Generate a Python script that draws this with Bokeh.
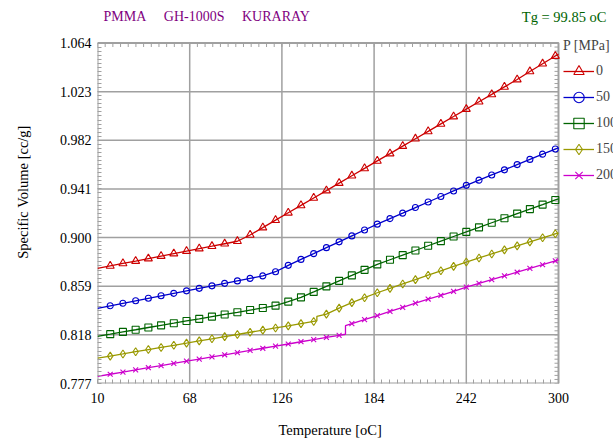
import math
from bokeh.plotting import figure
from bokeh.models import (Label, Legend, LegendItem, FixedTicker, Range1d,
                          PrintfTickFormatter)
from bokeh.embed import file_html
from bokeh.resources import INLINE

# ---------------- data ----------------
NB = "\u00a0"
title_text = "PMMA" + NB * 5 + "GH-1000S" + NB * 5 + "KURARAY"
tg_text = "Tg = 99.85 oC"
x_label = "Temperature [oC]"
y_label = "Specific Volume [cc/g]"
legend_title = "P [MPa]"
pressures = ["0", "50", "100", "150", "200"]

x_ticks = [10, 68, 126, 184, 242, 300]
y_ticks = [0.777, 0.818, 0.859, 0.900, 0.941, 0.982, 1.023, 1.064]

temps = [10, 18, 26, 34, 42, 50, 58, 66, 74, 82, 90, 98, 106, 114, 122, 130,
         138, 146, 154, 162, 170, 178, 186, 194, 202, 210, 218, 226, 234, 242,
         250, 258, 266, 274, 282, 290, 298, 300]

v_p0 = [0.8740, 0.8761, 0.8782, 0.8802, 0.8823, 0.8844, 0.8865, 0.8886, 0.8907,
        0.8927, 0.8948, 0.8969, 0.9022, 0.9084, 0.9147, 0.9209, 0.9271, 0.9334,
        0.9396, 0.9459, 0.9521, 0.9583, 0.9646, 0.9708, 0.9771, 0.9833, 0.9895,
        0.9958, 1.0020, 1.0083, 1.0145, 1.0207, 1.0270, 1.0332, 1.0400, 1.0465,
        1.0530, 1.0546]
v_p50 = [0.8404, 0.8425, 0.8446, 0.8467, 0.8488, 0.8509, 0.8530, 0.8551, 0.8572,
         0.8593, 0.8614, 0.8635, 0.8656, 0.8677, 0.8712, 0.8766, 0.8816, 0.8865,
         0.8915, 0.8964, 0.9014, 0.9064, 0.9113, 0.9160, 0.9206, 0.9253, 0.9300,
         0.9346, 0.9393, 0.9440, 0.9484, 0.9528, 0.9571, 0.9615, 0.9659, 0.9703,
         0.9746, 0.9757]
v_p100 = [0.8168, 0.8186, 0.8205, 0.8223, 0.8242, 0.8260, 0.8278, 0.8297, 0.8315,
          0.8334, 0.8352, 0.8370, 0.8389, 0.8407, 0.8426, 0.8460, 0.8496, 0.8542,
          0.8589, 0.8635, 0.8681, 0.8728, 0.8774, 0.8813, 0.8852, 0.8891, 0.8931,
          0.8970, 0.9009, 0.9048, 0.9086, 0.9125, 0.9163, 0.9202, 0.9240, 0.9278,
          0.9317, 0.9326]
v_p150 = [0.7983, 0.8001, 0.8019, 0.8038, 0.8056, 0.8074, 0.8092, 0.8110, 0.8129,
          0.8147, 0.8165, 0.8183, 0.8202, 0.8220, 0.8238, 0.8256, 0.8275, 0.8293,
          0.8355, 0.8405, 0.8452, 0.8493, 0.8535, 0.8572, 0.8609, 0.8646, 0.8683,
          0.8720, 0.8757, 0.8794, 0.8828, 0.8862, 0.8896, 0.8930, 0.8964, 0.8998,
          0.9032, 0.9040]
v_p200 = [0.7830, 0.7848, 0.7866, 0.7885, 0.7903, 0.7921, 0.7939, 0.7958, 0.7976,
          0.7994, 0.8012, 0.8030, 0.8049, 0.8067, 0.8085, 0.8103, 0.8122, 0.8140,
          0.8158, 0.8176, 0.8274, 0.8308, 0.8342, 0.8377, 0.8412, 0.8447, 0.8482,
          0.8512, 0.8547, 0.8582, 0.8614, 0.8645, 0.8677, 0.8708, 0.8740, 0.8771,
          0.8803, 0.8811]

# vertical steps in the traces: (temperature, value before, value after)
step_p150 = (148, 0.8297, 0.8336)
step_p200 = (166, 0.8185, 0.8257)

series = [v_p0, v_p50, v_p100, v_p150, v_p200]
steps = [None, None, None, step_p150, step_p200]
colors = ["#cc0000", "#0000cc", "#006400", "#999900", "#cc00cc"]
markers = ["triangle", "circle", "square", "diamond", "x"]
msizes = [8, 6, 7, 8, 7]

# ---------------- layout (pixels) ----------------
W, H = 613, 443
PLOT_L, PLOT_R, PLOT_T, PLOT_B = 97, 558, 42.5, 383   # data box on the canvas
SERIF = "Liberation Serif"
GRID = "#a0a0a0"

x0, x1 = x_ticks[0], x_ticks[-1]
y0, y1 = y_ticks[0], y_ticks[-1]
# frame spans from the left/bottom axes to the top/right canvas edges
x_end = x0 + (x1 - x0) * (W - PLOT_L) / (PLOT_R - PLOT_L)
y_end = y0 + (y1 - y0) * PLOT_B / (PLOT_B - PLOT_T)

p = figure(width=W, height=H, output_backend="svg", toolbar_location=None,
           x_range=Range1d(x0, x_end), y_range=Range1d(y0, y_end),
           min_border_left=PLOT_L, min_border_right=0, min_border_top=0,
           min_border_bottom=H - PLOT_B, background_fill_color="white",
           border_fill_color="white")
p.outline_line_color = None
p.grid.visible = False

x_minor = [x0 + i * (x_ticks[1] - x_ticks[0]) / 12 for i in range(12 * 5 + 1)]
y_minor = [y0 + i * (y_ticks[1] - y_ticks[0]) / 12 for i in range(12 * 7 + 1)]
xt = FixedTicker(ticks=x_ticks, minor_ticks=x_minor)
yt = FixedTicker(ticks=y_ticks, minor_ticks=y_minor)
p.xaxis.ticker = xt
p.yaxis.ticker = yt
p.yaxis.formatter = PrintfTickFormatter(format="%.3f")

for ax in (p.xaxis[0], p.yaxis[0]):
    ax.axis_line_color = None
    ax.major_tick_in = 0
    ax.major_tick_out = 0
    ax.minor_tick_in = 4
    ax.minor_tick_out = 0
    ax.minor_tick_line_color = GRID
    ax.major_label_text_font = SERIF
    ax.major_label_text_font_size = "14px"
    ax.major_label_text_color = "black"
    ax.axis_label_text_font = SERIF
    ax.axis_label_text_font_size = "14.5px"
    ax.axis_label_text_font_style = "normal"
    ax.axis_label_text_color = "black"

# the axis label is centred on the whole frame (which runs on to the canvas
# edge); trailing no-break spaces move it back over the data box
p.xaxis.axis_label = x_label + NB * 14
p.yaxis.axis_label = y_label
p.xaxis.major_label_standoff = 9
p.xaxis.axis_label_standoff = 16
p.yaxis.major_label_standoff = 6
p.yaxis.axis_label_standoff = 26

# grid lines, box, and top/right minor ticks from the tick lists
nx, ny = len(x_ticks) - 2, len(y_ticks) - 2
p.segment(x0=x_ticks[1:-1], y0=[y0] * nx, x1=x_ticks[1:-1], y1=[y1] * nx,
          line_color=GRID, line_width=1.5)
p.segment(x0=[x0] * ny, y0=y_ticks[1:-1], x1=[x1] * ny, y1=y_ticks[1:-1],
          line_color=GRID, line_width=1.5)
p.ray(x=x_minor, y=[y1] * len(x_minor), length=4, length_units="screen",
      angle=-math.pi / 2, line_color=GRID, line_width=1)
p.ray(x=[x1] * len(y_minor), y=y_minor, length=4, length_units="screen",
      angle=math.pi, line_color=GRID, line_width=1)
p.quad(left=[x0], right=[x1], bottom=[y0], top=[y1], fill_alpha=0,
       line_color=GRID, line_width=2)

items = []
for vals, stp, col, mk, ms, lab in zip(series, steps, colors, markers,
                                        msizes, pressures):
    xs = list(temps)
    ys = list(vals)
    if stp is not None:
        t0, a, b = stp
        idx = next(i for i, t in enumerate(xs) if t > t0)
        xs[idx:idx] = [t0, t0]
        ys[idx:idx] = [a, b]
    rl = p.line(xs, ys, line_color=col, line_width=1.3)
    rm = p.scatter(temps[1:-1], vals[1:-1], marker=mk, size=ms, line_color=col,
                   line_width=1.1, fill_alpha=0)
    items.append(LegendItem(label=lab, renderers=[rl, rm]))

legend = Legend(items=items, location=(466, 195), title=legend_title,
                title_text_font=SERIF, title_text_font_size="14px",
                title_text_font_style="normal", title_standoff=4,
                label_text_font=SERIF, label_text_font_size="14px",
                glyph_width=31, glyph_height=26, spacing=0, label_standoff=2,
                padding=0, margin=0, border_line_color=None,
                background_fill_alpha=0)
p.add_layout(legend, "center")

p.add_layout(Label(x=6, y=PLOT_B - 16, x_units="screen", y_units="screen",
                   text=title_text, text_font=SERIF, text_font_size="14px",
                   text_color="#800080", text_baseline="middle"))
p.add_layout(Label(x=509, y=PLOT_B - 16, x_units="screen", y_units="screen",
                   text=tg_text, text_font=SERIF, text_font_size="14.5px",
                   text_color="#006400", text_baseline="middle",
                   text_align="right"))

open("out.html", "w").write(file_html(p, INLINE))
